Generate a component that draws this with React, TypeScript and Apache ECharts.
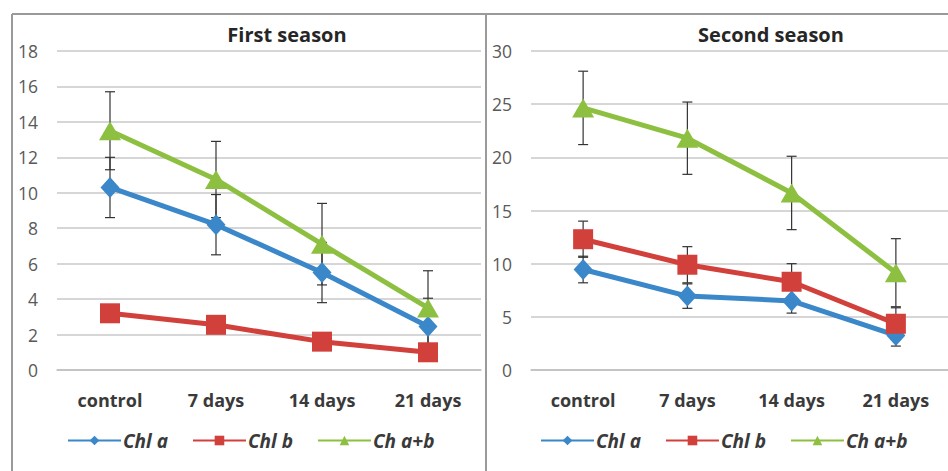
import React, { useEffect, useRef } from "react";
import * as echarts from "echarts";

const categories = ["control", "7 days", "14 days", "21 days"];
const seriesNames = ["Chl a", "Chl b", "Ch a+b"];

// First season
const s1ChlA = [10.3, 8.2, 5.5, 2.45];
const s1ChlAErr = [1.7, 1.7, 1.7, 1.6];
const s1ChlB = [3.2, 2.55, 1.6, 1.0];
const s1ChlBErr = [0.3, 0.3, 0.3, 0.3];
const s1ChlAB = [13.5, 10.75, 7.1, 3.5];
const s1ChlABErr = [2.2, 2.15, 2.3, 2.1];

// Second season
const s2ChlA = [9.45, 6.95, 6.5, 3.25];
const s2ChlAErr = [1.25, 1.15, 1.15, 1.0];
const s2ChlB = [12.3, 9.9, 8.3, 4.35];
const s2ChlBErr = [1.7, 1.7, 1.7, 1.5];
const s2ChlAB = [24.65, 21.8, 16.65, 9.15];
const s2ChlABErr = [3.45, 3.4, 3.45, 3.2];

const y1Ticks = { min: 0, max: 18, interval: 2 };
const y2Ticks = { min: 0, max: 30, interval: 5 };

const colors = ["#3a87c9", "#d2403c", "#8dc040"];
const symbols = ["diamond", "rect", "triangle"];
const symbolSizes = [[19, 21], 20, [22, 19]];

const FONT = "'Open Sans', 'Noto Sans', sans-serif";

function errData(vals: number[], errs: number[]) {
  return vals.map((v, i) => [i, v - errs[i], v + errs[i]]);
}

function errorSeries(name: string, idx: number, vals: number[], errs: number[]) {
  return {
    type: "custom",
    name,
    xAxisIndex: idx,
    yAxisIndex: idx,
    z: 1,
    silent: true,
    data: errData(vals, errs),
    renderItem: (params: any, api: any) => {
      const x = api.value(0);
      const lo = api.coord([x, api.value(1)]);
      const hi = api.coord([x, api.value(2)]);
      const w = 5;
      const style = { stroke: "#333333", lineWidth: 1.2 };
      return {
        type: "group",
        children: [
          { type: "line", shape: { x1: lo[0], y1: lo[1], x2: hi[0], y2: hi[1] }, style },
          { type: "line", shape: { x1: lo[0] - w, y1: lo[1], x2: lo[0] + w, y2: lo[1] }, style },
          { type: "line", shape: { x1: hi[0] - w, y1: hi[1], x2: hi[0] + w, y2: hi[1] }, style },
        ],
      };
    },
  };
}

function lineSeries(k: number, idx: number, data: number[]) {
  return {
    type: "line",
    name: seriesNames[k],
    xAxisIndex: idx,
    yAxisIndex: idx,
    data,
    z: 3,
    symbol: symbols[k],
    symbolSize: symbolSizes[k],
    showAllSymbol: true,
    lineStyle: { color: colors[k], width: 5 },
    itemStyle: { color: colors[k] },
  };
}

export default function App() {
  const ref = useRef<HTMLDivElement>(null);
  useEffect(() => {
    if (!ref.current) return;
    const chart = echarts.init(ref.current, undefined, { renderer: "svg" });
    const gridCommon = { top: 51, height: 319, width: 424 };
    const xAxisCommon = {
      type: "category",
      data: categories,
      boundaryGap: true,
      axisLine: { show: true, lineStyle: { color: "#bfbfbf", width: 1.5 } },
      axisTick: { show: false },
      axisLabel: { color: "#3a3a3a", fontSize: 18, fontWeight: "bold", fontFamily: FONT, margin: 21 },
      splitLine: { show: false },
    };
    const yAxisCommon = {
      type: "value",
      axisLine: { show: false },
      axisTick: { show: false },
      axisLabel: { color: "#595959", fontSize: 17.5, fontFamily: FONT, margin: 19 },
      splitLine: { show: true, lineStyle: { color: "#c8c8c8", width: 1.5 } },
    };
    const legendCommon = {
      top: 426,
      itemWidth: 53,
      itemHeight: 12,
      itemGap: 24,
      data: seriesNames,
      textStyle: { color: "#3a3a3a", fontSize: 19, fontWeight: "bold", fontStyle: "italic", fontFamily: FONT, padding: [0, 0, 0, -3] },
    };
    const titleCommon = {
      top: 19,
      textAlign: "center",
      textStyle: { color: "#262626", fontSize: 20, fontWeight: "bold", fontFamily: FONT },
    };
    const borderStyle = { stroke: "#9a9a9a", lineWidth: 2 };
    chart.setOption({
      animation: false,
      backgroundColor: "#ffffff",
      title: [
        { ...titleCommon, text: "First season", left: 282 },
        { ...titleCommon, text: "Second season", left: 766 },
      ],
      legend: [
        { ...legendCommon, left: 62 },
        { ...legendCommon, left: 535 },
      ],
      grid: [
        { ...gridCommon, left: 57 },
        { ...gridCommon, left: 531 },
      ],
      xAxis: [
        { ...xAxisCommon, gridIndex: 0 },
        { ...xAxisCommon, gridIndex: 1 },
      ],
      yAxis: [
        { ...yAxisCommon, gridIndex: 0, ...y1Ticks },
        { ...yAxisCommon, gridIndex: 1, ...y2Ticks },
      ],
      series: [
        errorSeries("errA1", 0, s1ChlA, s1ChlAErr),
        errorSeries("errB1", 0, s1ChlB, s1ChlBErr),
        errorSeries("errAB1", 0, s1ChlAB, s1ChlABErr),
        errorSeries("errA2", 1, s2ChlA, s2ChlAErr),
        errorSeries("errB2", 1, s2ChlB, s2ChlBErr),
        errorSeries("errAB2", 1, s2ChlAB, s2ChlABErr),
        lineSeries(0, 0, s1ChlA),
        lineSeries(1, 0, s1ChlB),
        lineSeries(2, 0, s1ChlAB),
        lineSeries(0, 1, s2ChlA),
        lineSeries(1, 1, s2ChlB),
        lineSeries(2, 1, s2ChlAB),
      ],
      graphic: [
        { type: "line", shape: { x1: 12, y1: 14, x2: 948, y2: 14 }, style: borderStyle, silent: true },
        { type: "line", shape: { x1: 12, y1: 14, x2: 12, y2: 471 }, style: borderStyle, silent: true },
        { type: "line", shape: { x1: 486, y1: 14, x2: 486, y2: 471 }, style: borderStyle, silent: true },
      ],
    });
    return () => chart.dispose();
  }, []);
  return (
    <div style={{ position: "fixed", left: 0, top: 0, width: 948, height: 471, overflow: "hidden", background: "#fff" }}>
      <div ref={ref} style={{ width: 948, height: 471 }} />
    </div>
  );
}
